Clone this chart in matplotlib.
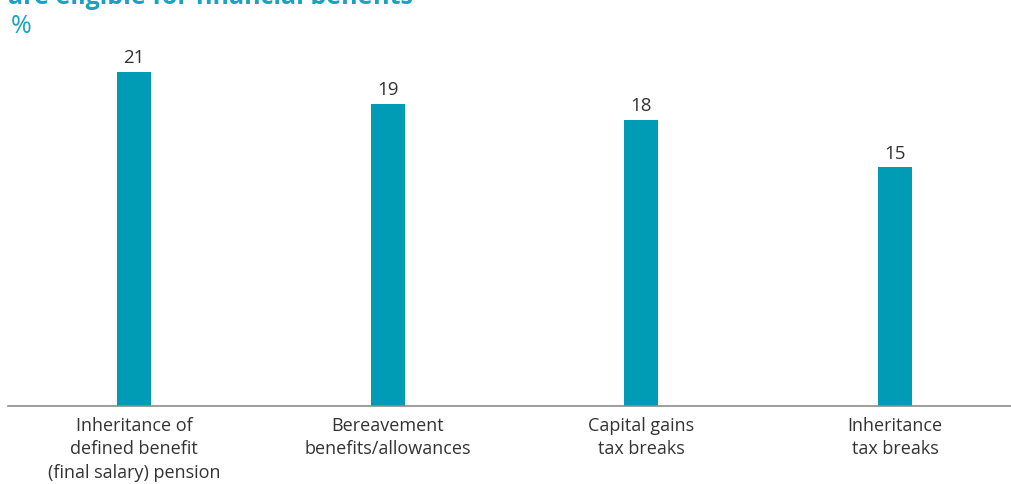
import matplotlib
matplotlib.use("Agg")
import matplotlib.pyplot as plt

categories = ["Inheritance of\ndefined benefit\n(final salary) pension",
              "Bereavement\nbenefits/allowances",
              "Capital gains\ntax breaks",
              "Inheritance\ntax breaks"]
values = [21, 19, 18, 15]

BAR = "#009bb4"
TEAL = "#1aa3c0"
TXT = "#333333"

plt.rcParams['font.family'] = ['Open Sans', 'DejaVu Sans']

W, H = 1011, 484
fig = plt.figure(figsize=(W/100, H/100), dpi=100)
ax = fig.add_axes([8/W, 1-406/H, 1003/W, 406/H])

x = list(range(len(values)))
ax.bar(x, values, width=0.134, color=BAR, zorder=2)
for xi, v in zip(x, values):
    ax.text(xi, v + 0.3, str(v), ha='center', va='bottom', fontsize=13.5, color=TXT)

ax.set_xlim(-0.497, 3.457)
ax.set_ylim(0, 25.53)
ax.set_xticks(x)
ax.set_xticklabels(categories, fontsize=13, color=TXT, linespacing=1.38)
ax.tick_params(axis='x', length=0, pad=8)
ax.set_yticks([])
for s in ['top', 'right', 'left']:
    ax.spines[s].set_visible(False)
ax.spines['bottom'].set_color('#8c8c8c')
ax.spines['bottom'].set_linewidth(1.2)

fig.text(8/W, 1 - 4/H, "are eligible for financial benefits", fontsize=18, fontweight='bold',
         color=TEAL, ha='left', va='baseline')
fig.text(11/W, 1 - 33/H, "%", fontsize=18, color=TEAL, ha='left', va='baseline')

fig.savefig("out.png", dpi=100)
